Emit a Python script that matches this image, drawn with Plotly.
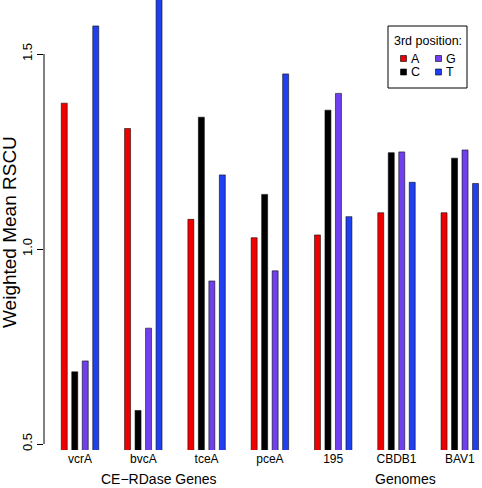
import plotly.graph_objects as go

genes = ["vcrA", "bvcA", "tceA", "pceA", "195", "CBDB1", "BAV1"]
pos_A = [1.374, 1.309, 1.076, 1.029, 1.036, 1.093, 1.093]
pos_C = [0.685, 0.586, 1.338, 1.140, 1.356, 1.247, 1.233]
pos_G = [0.713, 0.797, 0.918, 0.944, 1.399, 1.249, 1.254]
pos_T = [1.572, 1.645, 1.190, 1.449, 1.083, 1.171, 1.168]
series_names = ["A", "C", "G", "T"]
colors = ["#F00000", "#000000", "#7040EE", "#2040F0"]
y_ticks = [0.5, 1.0, 1.5]

W, H = 482, 488
L, B, T, R = 44, 38, 0, 0
pw, ph = W - L - R, H - B - T

def px(x):
    return (x - L) / pw

def py(y):
    return (H - B - y) / ph

FONT = "Liberation Sans, Arial, sans-serif"

fig = go.Figure()
for name, vals, col in zip(series_names, [pos_A, pos_C, pos_G, pos_T], colors):
    fig.add_trace(go.Bar(
        x=genes, y=vals, name=name, base=0,
        marker=dict(color=col, line=dict(color="rgba(0,0,0,0.55)", width=1)),
        showlegend=False,
    ))

# y range: plot bottom at 450px, 390 px per unit
ylo = 0.5 - 6 / 390
yhi = 1.5 + 54 / 390
unit = 63.3
xlo = -(80 - L) / unit
xhi = xlo + pw / unit

fig.update_layout(
    width=W, height=H,
    margin=dict(l=L, r=R, t=T, b=B, pad=0),
    paper_bgcolor="white", plot_bgcolor="white",
    barmode="group", bargap=0.337, bargroupgap=0.43,
    font=dict(family=FONT, size=12, color="black"),
    xaxis=dict(range=[xlo, xhi], showline=False, ticks="", showgrid=False,
               zeroline=False, tickfont=dict(size=12), ticklabelstandoff=0),
    yaxis=dict(range=[ylo, yhi], tickvals=y_ticks, ticktext=["0.5", "1.0", "1.5"],
               ticks="outside", ticklen=6, tickcolor="black", tickwidth=1,
               showline=False, showgrid=False, zeroline=False, tickangle=-90,
               tickfont=dict(size=13), ticklabelstandoff=0),
)

# R-style axis line spanning the tick range only
fig.add_shape(type="line", xref="paper", yref="y", x0=0, x1=0,
              y0=y_ticks[0], y1=y_ticks[-1], line=dict(color="black", width=1))

# axis title and group labels
fig.add_annotation(text="Weighted Mean RSCU", xref="paper", yref="paper",
                   x=px(9), y=py(232), textangle=-90, showarrow=False,
                   font=dict(size=19), xanchor="center", yanchor="middle")
fig.add_annotation(text="CE−RDase Genes", xref="paper", yref="paper",
                   x=px(159), y=py(479), showarrow=False,
                   font=dict(size=14), xanchor="center", yanchor="middle")
fig.add_annotation(text="Genomes", xref="paper", yref="paper",
                   x=px(405), y=py(479), showarrow=False,
                   font=dict(size=14), xanchor="center", yanchor="middle")

# legend box
fig.add_shape(type="rect", xref="paper", yref="paper",
              x0=px(388), x1=px(467), y0=py(26), y1=py(88),
              line=dict(color="black", width=1), fillcolor="white")
fig.add_annotation(text="3rd position:", xref="paper", yref="paper",
                   x=px(427.5), y=py(41.5), showarrow=False,
                   font=dict(size=12.5), xanchor="center", yanchor="middle")
legend_pos = [(400.5, 58.5), (400.5, 72), (435.5, 58.5), (435.5, 72)]
for (lx, ly), name, col in zip(legend_pos, series_names, colors):
    fig.add_shape(type="rect", xref="paper", yref="paper",
                  x0=px(lx), x1=px(lx + 6), y0=py(ly - 3), y1=py(ly + 3),
                  line=dict(color="rgba(0,0,0,0.6)", width=1), fillcolor=col)
    fig.add_annotation(text=name, xref="paper", yref="paper",
                       x=px(lx + 8), y=py(ly), showarrow=False,
                       font=dict(size=12.5), xanchor="left", yanchor="middle")

fig.write_html("out.html", config={"displayModeBar": False},
               post_script="document.body.style.margin='0';document.body.style.overflow='hidden';")
